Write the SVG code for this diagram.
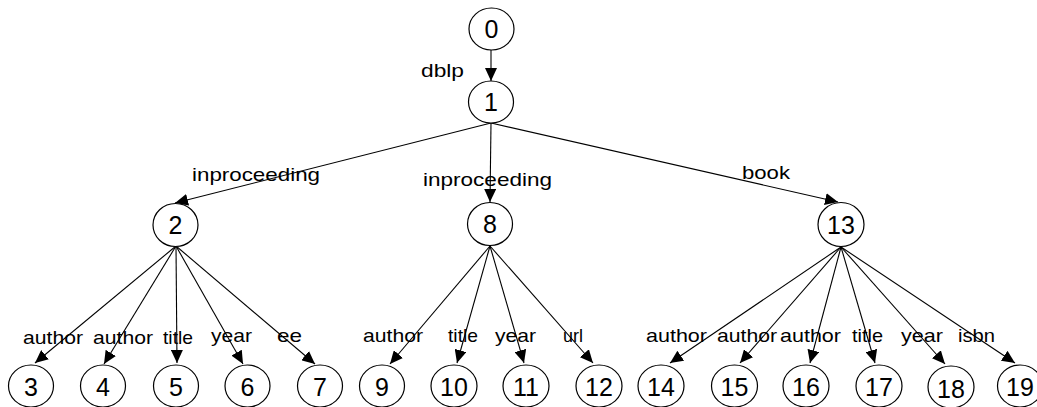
<svg xmlns="http://www.w3.org/2000/svg" width="1037" height="407" viewBox="0 0 1037 407">
<style>
.n ellipse{fill:#fff;stroke:#000;stroke-width:1.2}
.n text{font-family:"Liberation Sans",Arial,sans-serif;font-size:25px;text-anchor:middle;fill:#000}
.e line{stroke:#000;stroke-width:1.1;marker-end:url(#ah)}
.l{font-family:"Liberation Sans",Arial,sans-serif;font-size:19px;fill:#000}
</style>
<defs>
<marker id="ah" markerUnits="userSpaceOnUse" markerWidth="13" markerHeight="12" refX="13" refY="6" orient="auto">
<path d="M0,0 L13,6 L0,12 z" fill="#000"/>
</marker>
</defs>
<rect width="1037" height="407" fill="#fff"/>
<g id="edges" class="e">
<line x1="491" y1="50" x2="491" y2="81"/>
<line x1="491" y1="123" x2="175" y2="203"/>
<line x1="491" y1="123" x2="490" y2="202"/>
<line x1="491" y1="123" x2="838" y2="202"/>
<line x1="176" y1="246" x2="35" y2="363"/>
<line x1="176" y1="246" x2="104" y2="364"/>
<line x1="176" y1="246" x2="177" y2="363"/>
<line x1="176" y1="246" x2="243" y2="364"/>
<line x1="176" y1="246" x2="315" y2="364"/>
<line x1="490" y1="246" x2="390" y2="364"/>
<line x1="490" y1="246" x2="457" y2="363"/>
<line x1="490" y1="246" x2="524" y2="363"/>
<line x1="490" y1="246" x2="593" y2="363"/>
<line x1="841" y1="247" x2="670" y2="363"/>
<line x1="841" y1="247" x2="740" y2="363"/>
<line x1="841" y1="247" x2="810" y2="363"/>
<line x1="841" y1="247" x2="875" y2="363"/>
<line x1="841" y1="247" x2="945" y2="364"/>
<line x1="841" y1="247" x2="1015" y2="363"/>
</g>
<g id="labels">
<text class="l" x="421" y="77" textLength="43" lengthAdjust="spacingAndGlyphs">dblp</text>
<text class="l" x="192" y="181" textLength="128" lengthAdjust="spacingAndGlyphs">inproceeding</text>
<text class="l" x="423" y="186" textLength="129" lengthAdjust="spacingAndGlyphs">inproceeding</text>
<text class="l" x="742" y="179" textLength="48" lengthAdjust="spacingAndGlyphs">book</text>
<text class="l" x="23" y="344" textLength="60" lengthAdjust="spacingAndGlyphs">author</text>
<text class="l" x="93" y="344" textLength="60" lengthAdjust="spacingAndGlyphs">author</text>
<text class="l" x="163" y="344" textLength="30" lengthAdjust="spacingAndGlyphs">title</text>
<text class="l" x="211" y="342" textLength="41" lengthAdjust="spacingAndGlyphs">year</text>
<text class="l" x="277" y="342" textLength="25" lengthAdjust="spacingAndGlyphs">ee</text>
<text class="l" x="363" y="342" textLength="60" lengthAdjust="spacingAndGlyphs">author</text>
<text class="l" x="448" y="342" textLength="30" lengthAdjust="spacingAndGlyphs">title</text>
<text class="l" x="495" y="342" textLength="41" lengthAdjust="spacingAndGlyphs">year</text>
<text class="l" x="563" y="342" textLength="20" lengthAdjust="spacingAndGlyphs">url</text>
<text class="l" x="646" y="342" textLength="61" lengthAdjust="spacingAndGlyphs">author</text>
<text class="l" x="717" y="342" textLength="60" lengthAdjust="spacingAndGlyphs">author</text>
<text class="l" x="780" y="342" textLength="61" lengthAdjust="spacingAndGlyphs">author</text>
<text class="l" x="852" y="342" textLength="31" lengthAdjust="spacingAndGlyphs">title</text>
<text class="l" x="901" y="342" textLength="42" lengthAdjust="spacingAndGlyphs">year</text>
<text class="l" x="958" y="342" textLength="37" lengthAdjust="spacingAndGlyphs">isbn</text>
</g>
<g id="node0" class="n"><ellipse cx="491.5" cy="29" rx="22.5" ry="21"/><text x="491.5" y="38">0</text></g>
<g id="node1" class="n"><ellipse cx="491" cy="102" rx="22.5" ry="21"/><text x="491" y="111">1</text></g>
<g id="node2" class="n"><ellipse cx="175.5" cy="225" rx="22.5" ry="21.5"/><text x="175.5" y="234">2</text></g>
<g id="node8" class="n"><ellipse cx="490" cy="224" rx="22.5" ry="21.5"/><text x="490" y="233">8</text></g>
<g id="node13" class="n"><ellipse cx="841" cy="224.5" rx="23" ry="22"/><text x="841" y="233.5">13</text></g>
<g id="node3" class="n"><ellipse cx="31" cy="386" rx="22.5" ry="21"/><text x="31" y="396">3</text></g>
<g id="node4" class="n"><ellipse cx="103" cy="386" rx="22.5" ry="21"/><text x="103" y="396">4</text></g>
<g id="node5" class="n"><ellipse cx="176" cy="386" rx="22.5" ry="21"/><text x="176" y="396">5</text></g>
<g id="node6" class="n"><ellipse cx="247.5" cy="386" rx="22.5" ry="21"/><text x="247.5" y="396">6</text></g>
<g id="node7" class="n"><ellipse cx="320" cy="386" rx="22.5" ry="21"/><text x="320" y="396">7</text></g>
<g id="node9" class="n"><ellipse cx="382" cy="386" rx="22.5" ry="21"/><text x="382" y="396">9</text></g>
<g id="node10" class="n"><ellipse cx="454" cy="386" rx="23" ry="21"/><text x="454" y="396">10</text></g>
<g id="node11" class="n"><ellipse cx="526" cy="386" rx="23" ry="21"/><text x="526" y="396">11</text></g>
<g id="node12" class="n"><ellipse cx="599" cy="386" rx="23" ry="21"/><text x="599" y="396">12</text></g>
<g id="node14" class="n"><ellipse cx="661" cy="386" rx="23" ry="21"/><text x="661" y="396">14</text></g>
<g id="node15" class="n"><ellipse cx="734.5" cy="386" rx="23" ry="21"/><text x="734.5" y="396">15</text></g>
<g id="node16" class="n"><ellipse cx="806" cy="386" rx="23" ry="21"/><text x="806" y="396">16</text></g>
<g id="node17" class="n"><ellipse cx="879" cy="386" rx="23" ry="21"/><text x="879" y="396">17</text></g>
<g id="node18" class="n"><ellipse cx="951" cy="387" rx="23" ry="21"/><text x="951" y="398">18</text></g>
<g id="node19" class="n"><ellipse cx="1020" cy="386" rx="22.5" ry="21"/><text x="1020" y="396">19</text></g>
</svg>
